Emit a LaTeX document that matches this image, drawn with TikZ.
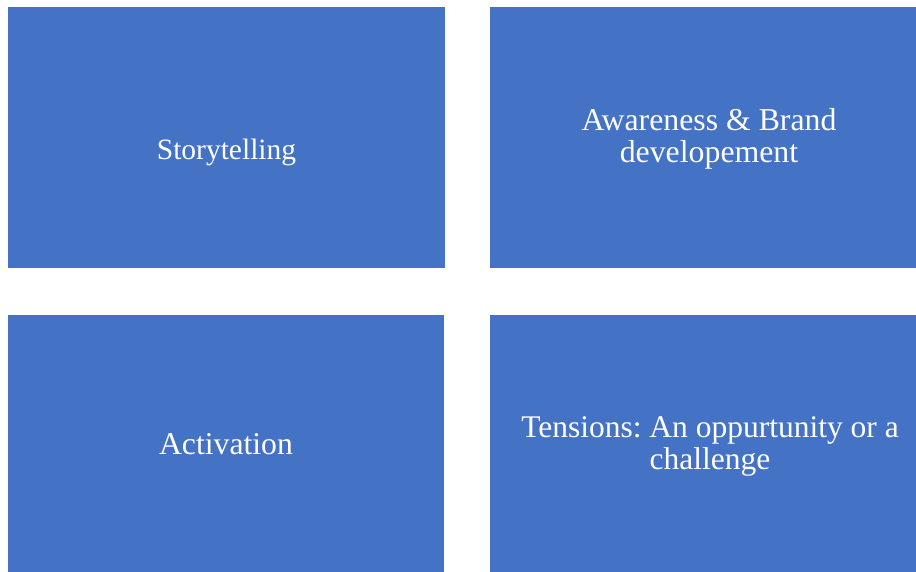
\documentclass[tikz,border=0pt]{standalone}
\usepackage{fontspec}
\setmainfont{Liberation Serif}
\definecolor{tileblue}{HTML}{4472C4}
\frenchspacing
\begin{document}
\begin{tikzpicture}[x=1pt,y=1pt,
  tile/.style={fill=tileblue,draw=none},
  caption/.style={text=white,anchor=base,inner sep=0pt,font=\fontsize{#1}{33}\selectfont},
  caption/.default=31.5]
\clip (0,0) rectangle (916,572);
% four tiles (the right-hand ones run past the page edge)
\fill[tile] (8,304) rectangle (445,565);
\fill[tile] (490,304) rectangle (927,565);
\fill[tile] (8,-4) rectangle (444,257);
\fill[tile] (490,-4) rectangle (927,257);
% captions
\node[caption=29.5] (story) at (226.5,412) {Storytelling};
\node[caption=31.8] (aware1) at (709,441) {Awareness \& Brand};
\node[caption=31.8] (aware2) at (709,409) {developement};
\node[caption=31.7] (activ) at (226,117) {Activation};
\node[caption=31.5] (tens1) at (710,134) {Tensions: An oppurtunity or a};
\node[caption=31.5] (tens2) at (710,102) {challenge};
\end{tikzpicture}
\end{document}
